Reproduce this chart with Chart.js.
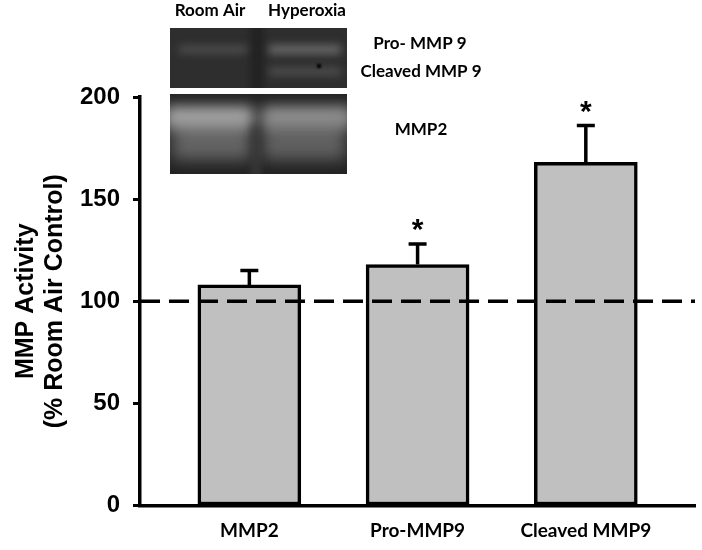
<!DOCTYPE html>
<html>
<head>
<meta charset="utf-8">
<style>
  html, body { margin: 0; padding: 0; background: #fff; }
  canvas { display: block; }
</style>
<script src="https://cdn.jsdelivr.net/npm/chart.js@4/dist/chart.umd.min.js"></script>
</head>
<body>
<canvas id="chart" width="702" height="550"></canvas>
<script>
const categories = ["MMP2", "Pro-MMP9", "Cleaved MMP9"];
const activity = [108, 118, 168];
const errorUp = [7, 10, 18];
const significant = [false, true, true];
const yTicks = [0, 50, 100, 150, 200];
const controlLevel = [100, 100];
const yTitle = ["MMP Activity", "(% Room Air Control)"];

const axisFont = "'Liberation Sans', Arial, sans-serif";
const labelFont = "Lato, 'Noto Sans', sans-serif";

// x range chosen so the three bars sit where they do in the figure
const xMin = -0.65;
const xMax = 2.649;

function blob(ctx, x, y, w, h, color, blur) {
    ctx.save();
    ctx.filter = `blur(${blur}px)`;
    ctx.fillStyle = color;
    ctx.fillRect(x, y, w, h);
    ctx.restore();
}

function drawBlot(ctx) {
    // top panel, MMP9 zymogram
    ctx.save();
    ctx.beginPath();
    ctx.rect(170, 28, 177, 60);
    ctx.clip();
    ctx.fillStyle = "#2e2e2e";
    ctx.fillRect(170, 28, 177, 60);
    blob(ctx, 250, 20, 14, 75, "#232323", 3);
    blob(ctx, 179, 46, 68, 7, "#525252", 4);
    blob(ctx, 269, 45, 72, 9, "#6a6a6a", 4);
    blob(ctx, 269, 68, 72, 7, "#535353", 4);
    blob(ctx, 317, 64, 4, 4, "#000000", 1);
    ctx.restore();

    // bottom panel, MMP2 zymogram
    ctx.save();
    ctx.beginPath();
    ctx.rect(170, 94, 177, 80);
    ctx.clip();
    ctx.fillStyle = "#222222";
    ctx.fillRect(170, 94, 177, 80);
    blob(ctx, 172, 116, 80, 44, "#646464", 8);
    blob(ctx, 262, 116, 84, 44, "#606060", 8);
    blob(ctx, 165, 106, 88, 22, "#a2a2a2", 7);
    blob(ctx, 262, 106, 90, 22, "#8e8e8e", 7);
    blob(ctx, 252, 125, 8, 56, "#3a3a3a", 4);
    ctx.restore();
}

const figureExtras = {
    id: "figureExtras",
    afterDraw(chart) {
        const { ctx, scales: { x, y } } = chart;

        // error bars, upper arm only
        ctx.save();
        ctx.strokeStyle = "#000";
        ctx.lineWidth = 3.5;
        activity.forEach((v, i) => {
            const px = x.getPixelForValue(i);
            const top = y.getPixelForValue(v + errorUp[i]);
            ctx.beginPath();
            ctx.moveTo(px, y.getPixelForValue(v));
            ctx.lineTo(px, top);
            ctx.moveTo(px - 9, top);
            ctx.lineTo(px + 9, top);
            ctx.stroke();
        });

        // significance stars
        ctx.fillStyle = "#000";
        ctx.textAlign = "center";
        ctx.textBaseline = "middle";
        ctx.font = `bold 30px ${axisFont}`;
        activity.forEach((v, i) => {
            if (significant[i]) {
                ctx.fillText("*", x.getPixelForValue(i), y.getPixelForValue(v + errorUp[i]) - 13);
            }
        });

        drawBlot(ctx);

        // blot labels
        ctx.font = `bold 17px ${labelFont}`;
        ctx.fillText("Room Air", 210, 11);
        ctx.fillText("Hyperoxia", 307, 11);
        ctx.fillText("Pro- MMP 9", 420, 44);
        ctx.fillText("Cleaved MMP 9", 421, 72);
        ctx.fillText("MMP2", 421, 130);
        ctx.restore();
    }
};

new Chart(document.getElementById("chart"), {
    type: "bar",
    data: {
        datasets: [
            {
                type: "line",
                data: controlLevel.map((v, i) => ({ x: i === 0 ? xMin : xMax, y: v })),
                borderColor: "#000",
                borderWidth: 3.5,
                borderDash: [20, 9],
                pointRadius: 0,
                order: 0
            },
            {
                type: "bar",
                data: activity.map((v, i) => ({ x: i, y: v })),
                backgroundColor: "#c0c0c0",
                borderColor: "#000",
                borderWidth: 3.5,
                borderSkipped: false,
                barThickness: 103,
                order: 1
            }
        ]
    },
    plugins: [figureExtras],
    options: {
        responsive: false,
        animation: false,
        layout: { padding: { top: 97, right: 7 } },
        plugins: {
            legend: { display: false },
            tooltip: { enabled: false }
        },
        scales: {
            x: {
                type: "linear",
                offset: false,
                min: xMin,
                max: xMax,
                afterBuildTicks: (scale) => {
                    scale.ticks = categories.map((c, i) => ({ value: i }));
                },
                afterFit: (scale) => { scale.height = 44.5; },
                grid: { display: false, drawTicks: false },
                border: { color: "#000", width: 3.5 },
                ticks: {
                    autoSkip: false,
                    maxRotation: 0,
                    padding: 14,
                    color: "#000",
                    font: { family: labelFont, weight: "bold", size: 19 },
                    callback: (value) => categories[value]
                }
            },
            y: {
                min: yTicks[0],
                max: yTicks[yTicks.length - 1],
                afterFit: (scale) => { scale.width = 140; },
                grid: {
                    drawOnChartArea: false,
                    color: "#000",
                    tickColor: "#000",
                    tickWidth: 3,
                    tickLength: 7
                },
                border: { color: "#000", width: 3.5 },
                ticks: {
                    stepSize: yTicks[1] - yTicks[0],
                    padding: 13,
                    color: "#000",
                    font: { family: axisFont, weight: "bold", size: 24 }
                },
                title: {
                    display: true,
                    text: yTitle,
                    color: "#000",
                    padding: { top: 12, bottom: 0 },
                    font: { family: axisFont, weight: "bold", size: 25, lineHeight: 1.16 }
                }
            }
        }
    }
});
</script>
</body>
</html>
